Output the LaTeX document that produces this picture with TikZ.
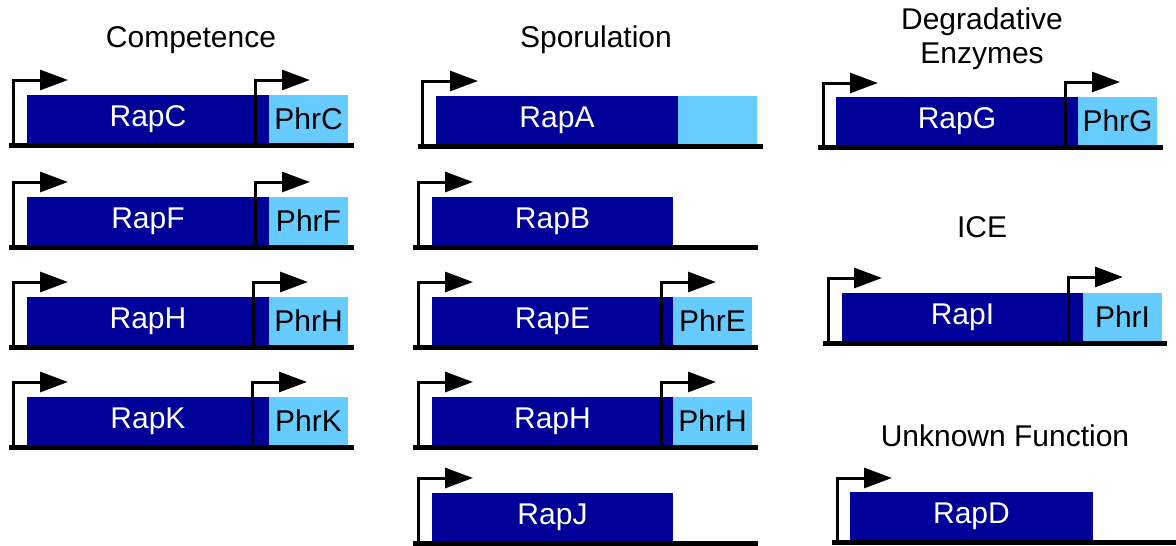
\documentclass[tikz,border=0pt]{standalone}
\usepackage{fontspec}
\setmainfont{Liberation Sans}
\usetikzlibrary{arrows.meta}
\definecolor{rapblue}{RGB}{0,0,153}
\definecolor{phrblue}{RGB}{102,204,255}
\begin{document}
\begin{tikzpicture}[x=1pt,y=-1pt,font=\fontsize{30}{34}\selectfont,
  rap/.style={fill=rapblue,text=white,inner sep=0pt,outer sep=0pt,minimum height=48pt,anchor=south west},
  phr/.style={fill=phrblue,text=black,inner sep=0pt,outer sep=0pt,minimum height=48pt,anchor=south west},
  strang/.style={line width=5pt},
  prom/.style={line width=3pt,-{Triangle[length=28pt,width=20pt]}}]
\useasboundingbox (0,0) rectangle (1176,546);
%%Ueberschriften
\node (kompetenz) at (191,40) {Competence};
\node (sporulation) at (596,40) {Sporulation};
\node[align=center] (enzyme) at (982,39) {Degradative\\Enzymes};
\node (ice) at (982,227) {ICE};
\node (unbekannt) at (1005,436) {Unknown Function};
%%Kompetenz
\node[rap,minimum width=242pt] (rapC) at (27,143) {RapC};
\node[phr,minimum width=79pt] (phrC) at (269,143) {PhrC};
\draw[strang] (9,145) -- (354,145);
\draw[prom] (13,145) |- (68,80);
\draw[prom] (255,145) |- (310,80);
\node[rap,minimum width=242pt] (rapF) at (27,245) {RapF};
\node[phr,minimum width=79pt] (phrF) at (269,245) {PhrF};
\draw[strang] (9,247) -- (354,247);
\draw[prom] (13,247) |- (68,182);
\draw[prom] (255,247) |- (310,182);
\node[rap,minimum width=242pt] (rapH) at (27,345) {RapH};
\node[phr,minimum width=79pt] (phrH) at (269,345) {PhrH};
\draw[strang] (9,347) -- (354,347);
\draw[prom] (13,347) |- (68,282);
\draw[prom] (253,347) |- (308,282);
\node[rap,minimum width=242pt] (rapK) at (27,445) {RapK};
\node[phr,minimum width=79pt] (phrK) at (269,445) {PhrK};
\draw[strang] (9,447) -- (354,447);
\draw[prom] (13,447) |- (68,382);
\draw[prom] (252,447) |- (307,382);
%%Sporulation
\node[rap,minimum width=242pt] (rapA) at (436,144) {RapA};
\node[phr,minimum width=79pt] (phrA) at (678,144) {};
\draw[strang] (418,146) -- (763,146);
\draw[prom] (422,146) |- (478,81);
\node[rap,minimum width=241pt] (rapB) at (432,245) {RapB};
\draw[strang] (413,247) -- (758,247);
\draw[prom] (418,247) |- (473,182);
\node[rap,minimum width=241pt] (rapE) at (432,345) {RapE};
\node[phr,minimum width=79pt] (phrE) at (673,345) {PhrE};
\draw[strang] (413,347) -- (758,347);
\draw[prom] (418,347) |- (473,282);
\draw[prom] (661,347) |- (716,282);
\node[rap,minimum width=241pt] (rapH2) at (432,445) {RapH};
\node[phr,minimum width=79pt] (phrH2) at (673,445) {PhrH};
\draw[strang] (413,447) -- (758,447);
\draw[prom] (418,447) |- (473,382);
\draw[prom] (661,447) |- (716,382);
\node[rap,minimum width=241pt] (rapJ) at (432,541) {RapJ};
\draw[strang] (413,543) -- (758,543);
\draw[prom] (418,543) |- (473,478);
%%Enzyme, ICE, unbekannt
\node[rap,minimum width=242pt] (rapG) at (836,145) {RapG};
\node[phr,minimum width=79pt] (phrG) at (1078,145) {PhrG};
\draw[strang] (818,147) -- (1163,147);
\draw[prom] (823,147) |- (878,83);
\draw[prom] (1065,147) |- (1120,82);
\node[rap,minimum width=241pt] (rapI) at (842,341) {RapI};
\node[phr,minimum width=79pt] (phrI) at (1083,341) {PhrI};
\draw[strang] (823,343) -- (1167,343);
\draw[prom] (828,343) |- (882,278);
\draw[prom] (1068,343) |- (1123,277);
\node[rap,minimum width=243pt] (rapD) at (850,540) {RapD};
\draw[strang] (832,542) -- (1176,542);
\draw[prom] (837,542) |- (892,478);
\end{tikzpicture}
\end{document}
